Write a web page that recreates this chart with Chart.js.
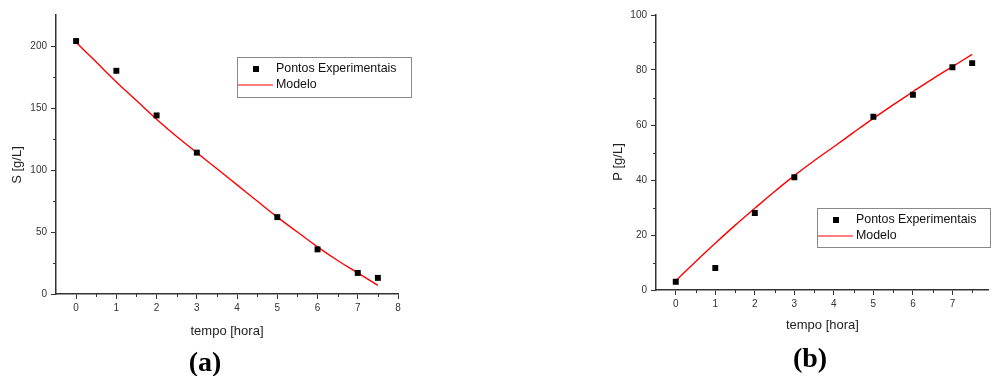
<!DOCTYPE html>
<html>
<head>
<meta charset="utf-8">
<script src="https://cdn.jsdelivr.net/npm/chart.js@4.4.0/dist/chart.umd.min.js"></script>
<style>
  body { margin: 0; background: #fff; width: 993px; height: 376px; overflow: hidden; position: relative; }
  #wa { position: absolute; left: 0; top: 0; width: 430px; height: 376px; }
  #wb { position: absolute; left: 560px; top: 0; width: 433px; height: 376px; }
  .lbl { position: absolute; transform: translate(-50%, -50%); font: bold 28px "Liberation Serif", "Times New Roman", serif; line-height: 1; color: #000; }
</style>
</head>
<body>
<div id="wa"><canvas id="chartA" width="430" height="376"></canvas></div>
<div id="wb"><canvas id="chartB" width="433" height="376"></canvas></div>
<div class="lbl" style="left:205px; top:362px">(a)</div>
<div class="lbl" style="left:810px; top:358px">(b)</div>
<script>
// pontos experimentais
const tempoExp = [0, 1, 2, 3, 5, 6, 7, 7.5];
const substratoExp = [204, 180, 144, 114, 62, 36, 17, 13];
const produtoExp = [3, 8, 28, 41, 63, 71, 81, 82.5];

// curva do modelo
const tempoModelo = [0, 0.5, 1, 1.5, 2, 2.5, 3, 3.5, 4, 4.5, 5, 5.5, 6, 6.5, 7, 7.5];
const substratoModelo = [203, 187, 171, 156, 141, 127, 114, 101, 88, 75, 62, 50, 38, 27, 17, 7];
const produtoModelo = [3.3, 10.3, 17, 23.5, 29.7, 35.8, 41.6, 47, 52.1, 57.3, 62.4, 67.3, 72.1, 76.8, 81.2, 85.7];

// ticks
const xTicks = [0, 1, 2, 3, 4, 5, 6, 7, 8];
const yTicksS = [0, 50, 100, 150, 200];
const yTicksP = [0, 20, 40, 60, 80, 100];

const toPts = (xs, ys) => xs.map((x, i) => ({ x: x, y: ys[i] }));
const FONT = '"Liberation Sans", Arial, sans-serif';

// legenda com caixa, titulo do eixo y e ticks menores
const extras = {
  id: 'extras',
  afterDraw(chart, args, o) {
    const ctx = chart.ctx;
    const ds = chart.data.datasets;
    const sx = chart.scales.x, sy = chart.scales.y;
    ctx.save();

    // ticks menores
    ctx.strokeStyle = '#333';
    ctx.lineWidth = 1;
    ctx.beginPath();
    sx.ticks.forEach(t => {
      if (xTicks.includes(t.value)) return;
      const px = Math.round(sx.getPixelForValue(t.value)) + 0.5;
      ctx.moveTo(px, sx.top);
      ctx.lineTo(px, sx.top + 3);
    });
    sy.ticks.forEach(t => {
      if (o.yTicks.includes(t.value)) return;
      const py = Math.round(sy.getPixelForValue(t.value)) + 0.5;
      ctx.moveTo(sy.right, py);
      ctx.lineTo(sy.right - 3, py);
    });
    ctx.stroke();

    // titulo do eixo y
    ctx.save();
    ctx.translate(o.yTitleX, o.yTitleY);
    ctx.rotate(-Math.PI / 2);
    ctx.font = '13px ' + FONT;
    ctx.fillStyle = '#222';
    ctx.textAlign = 'center';
    ctx.textBaseline = 'middle';
    ctx.fillText(o.yTitle, 0, 0);
    ctx.restore();

    // legenda
    const b = o.box;
    ctx.strokeStyle = '#8a8a8a';
    ctx.lineWidth = 1;
    ctx.strokeRect(b.x + 0.5, b.y + 0.5, b.w, b.h);
    const r1 = b.y + 12, r2 = b.y + 28;
    ctx.fillStyle = ds[0].backgroundColor;
    ctx.fillRect(b.x + 16, r1 - 3, 6, 6);
    ctx.strokeStyle = ds[1].borderColor;
    ctx.lineWidth = 1.2;
    ctx.beginPath();
    ctx.moveTo(b.x + 1, r2);
    ctx.lineTo(b.x + 36, r2);
    ctx.stroke();
    ctx.font = '12.4px ' + FONT;
    ctx.textBaseline = 'middle';
    ctx.fillStyle = '#111';
    ctx.fillText(ds[0].label, b.x + 39, r1);
    ctx.fillText(ds[1].label, b.x + 39, r2);
    ctx.restore();
  }
};

function buildChart(id, c) {
  const tickFont = { family: FONT, size: 10 };
  const titleFont = { family: FONT, size: 13 };
  return new Chart(document.getElementById(id), {
    type: 'scatter',
    data: {
      datasets: [{
        label: 'Pontos Experimentais',
        data: c.exp,
        pointStyle: 'rect',
        pointRadius: 4.2,
        backgroundColor: '#000',
        borderColor: '#000',
        borderWidth: 0
      }, {
        label: 'Modelo',
        data: c.model,
        showLine: true,
        pointRadius: 0,
        borderColor: '#ff0000',
        borderWidth: 1.4,
        tension: 0.4,
        fill: false
      }]
    },
    options: {
      responsive: false,
      animation: false,
      layout: { padding: { left: c.padLeft, top: 15, right: c.padRight, bottom: 0 } },
      plugins: {
        legend: { display: false },
        tooltip: { enabled: false },
        extras: { box: c.legend, yTicks: c.yTicks, yTitle: c.yTitle, yTitleX: c.yTitleX, yTitleY: c.yTitleY }
      },
      scales: {
        x: {
          type: 'linear',
          min: -0.5,
          max: c.xMax,
          afterBuildTicks: s => {
            const t = [];
            xTicks.forEach(v => {
              if (v >= s.min && v <= s.max) t.push({ value: v });
              if (v + 0.5 <= s.max && v + 0.5 < 8) t.push({ value: v + 0.5 });
            });
            s.ticks = t;
          },
          afterFit: s => { s.height = c.xAxisH; },
          ticks: {
            font: tickFont, color: '#333', padding: 3, maxRotation: 0,
            callback: v => xTicks.includes(v) ? v : ''
          },
          grid: {
            drawOnChartArea: false, tickLength: 5, tickWidth: 1,
            tickColor: ctx => (ctx.tick && xTicks.includes(ctx.tick.value)) ? '#333' : 'rgba(0,0,0,0)'
          },
          border: { color: '#333', width: 1.5 },
          title: { display: true, text: 'tempo [hora]', font: titleFont, color: '#222', padding: { top: 0, bottom: c.xTitlePad } }
        },
        y: {
          min: 0,
          max: c.yMax,
          afterBuildTicks: s => {
            const st = c.yTicks[1] - c.yTicks[0];
            const t = [];
            c.yTicks.forEach(v => {
              t.push({ value: v });
              if (v + st / 2 < s.max) t.push({ value: v + st / 2 });
            });
            s.ticks = t;
          },
          afterFit: s => { s.width = 56; },
          ticks: {
            font: tickFont, color: '#333', padding: 4,
            callback: v => c.yTicks.includes(v) ? v : ''
          },
          grid: {
            drawOnChartArea: false, tickLength: 5, tickWidth: 1,
            tickColor: ctx => (ctx.tick && c.yTicks.includes(ctx.tick.value)) ? '#333' : 'rgba(0,0,0,0)'
          },
          border: { color: '#333', width: 1.5 }
        }
      }
    },
    plugins: [extras]
  });
}

buildChart('chartA', {
  exp: toPts(tempoExp, substratoExp),
  model: toPts(tempoModelo, substratoModelo),
  padLeft: 0, padRight: 32, xMax: 8, yMax: 225,
  yTicks: yTicksS, yTitle: 'S [g/L]', yTitleX: 17, yTitleY: 165,
  xAxisH: 82, xTitlePad: 37,
  legend: { x: 237, y: 57, w: 174, h: 40 }
});

buildChart('chartB', {
  exp: toPts(tempoExp, produtoExp),
  model: toPts(tempoModelo, produtoModelo),
  padLeft: 40, padRight: 0, xMax: 7.92, yMax: 100,
  yTicks: yTicksP, yTitle: 'P [g/L]', yTitleX: 58, yTitleY: 162,
  xAxisH: 86, xTitlePad: 43,
  legend: { x: 257, y: 208, w: 173, h: 39 }
});
</script>
</body>
</html>
